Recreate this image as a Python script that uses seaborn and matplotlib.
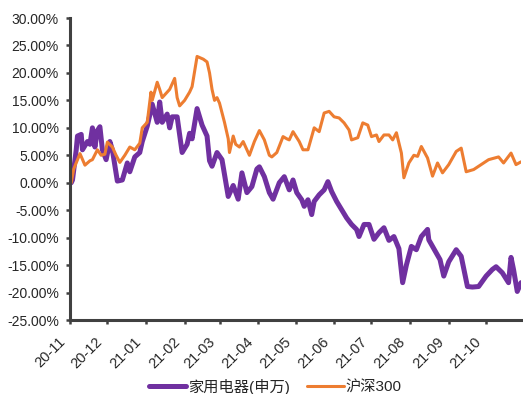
import matplotlib
matplotlib.use("Agg")
import matplotlib.pyplot as plt
import matplotlib.dates as mdates
import matplotlib.ticker as mticker
import matplotlib.transforms as mtransforms
import seaborn as sns
import pandas as pd

# 家用电器(申万) cumulative return (%)
jd_dates = ["2020-11-02", "2020-11-03", "2020-11-06", "2020-11-07", "2020-11-10", "2020-11-11",
            "2020-11-15", "2020-11-17", "2020-11-19", "2020-11-21", "2020-11-23", "2020-11-25",
            "2020-11-27", "2020-11-30", "2020-12-03", "2020-12-05", "2020-12-09", "2020-12-13",
            "2020-12-17", "2020-12-19", "2020-12-23", "2020-12-27", "2020-12-29", "2021-01-02",
            "2021-01-06", "2021-01-10", "2021-01-12", "2021-01-14", "2021-01-18", "2021-01-20",
            "2021-01-22", "2021-01-26", "2021-01-30", "2021-02-03", "2021-02-05", "2021-02-07",
            "2021-02-11", "2021-02-15", "2021-02-19", "2021-02-21", "2021-02-23", "2021-02-27",
            "2021-03-03", "2021-03-08", "2021-03-12", "2021-03-16", "2021-03-19", "2021-03-23",
            "2021-03-27", "2021-03-31", "2021-04-02", "2021-04-06", "2021-04-10", "2021-04-13",
            "2021-04-18", "2021-04-22", "2021-04-26", "2021-04-29", "2021-05-02", "2021-05-06",
            "2021-05-08", "2021-05-11", "2021-05-14", "2021-05-16", "2021-05-20", "2021-05-24",
            "2021-05-27", "2021-05-30", "2021-06-03", "2021-06-07", "2021-06-11", "2021-06-15",
            "2021-06-19", "2021-06-21", "2021-06-25", "2021-06-29", "2021-07-03", "2021-07-07",
            "2021-07-11", "2021-07-15", "2021-07-19", "2021-07-23", "2021-07-26", "2021-07-29",
            "2021-08-02", "2021-08-06", "2021-08-10", "2021-08-15", "2021-08-16", "2021-08-22",
            "2021-08-25", "2021-08-28", "2021-09-01", "2021-09-07", "2021-09-11", "2021-09-16",
            "2021-09-20", "2021-09-25", "2021-10-01", "2021-10-06", "2021-10-09", "2021-10-14",
            "2021-10-19", "2021-10-21", "2021-10-23", "2021-10-26", "2021-10-29"]
jd_values = [0.0, 0.5, 6.0, 8.5, 8.8, 6.0,
             7.5, 7.0, 10.0, 6.5, 9.5, 10.2,
             6.0, 4.2, 7.5, 6.0, 0.3, 0.5,
             3.6, 2.0, 4.7, 5.5, 7.5, 10.3,
             14.3, 11.0, 14.7, 11.0, 12.5, 10.0,
             12.0, 12.0, 5.5, 7.0, 9.0, 8.0,
             13.5, 10.5, 8.5, 4.0, 3.0, 5.5,
             4.2, -2.5, -0.5, -3.0, 1.8, -1.8,
             -0.7, 2.5, 2.9, 1.1, -1.8, -3.0,
             0.0, 1.1, -1.3, 0.5, -1.8, -3.1,
             -4.3, -3.1, -5.8, -3.4, -2.2, -1.3,
             0.2, -1.6, -3.4, -4.9, -6.4, -7.6,
             -8.5, -9.8, -7.6, -7.6, -10.3, -9.1,
             -8.2, -10.5, -9.8, -12.0, -18.2, -15.0,
             -11.6, -12.2, -9.8, -8.5, -10.4, -12.8,
             -14.0, -17.0, -14.4, -12.2, -13.4, -18.9,
             -19.0, -18.9, -17.0, -15.8, -15.3, -16.4,
             -18.2, -13.6, -15.8, -19.8, -18.2]

# 沪深300 cumulative return (%)
hs_dates = ["2020-11-02", "2020-11-04", "2020-11-09", "2020-11-13", "2020-11-17", "2020-11-19",
            "2020-11-23", "2020-11-26", "2020-11-29", "2020-12-01", "2020-12-05", "2020-12-08",
            "2020-12-11", "2020-12-15", "2020-12-19", "2020-12-23", "2020-12-27", "2020-12-29",
            "2021-01-02", "2021-01-05", "2021-01-06", "2021-01-10", "2021-01-12", "2021-01-14",
            "2021-01-18", "2021-01-20", "2021-01-24", "2021-01-26", "2021-01-28", "2021-02-01",
            "2021-02-05", "2021-02-07", "2021-02-11", "2021-02-16", "2021-02-19", "2021-02-21",
            "2021-02-23", "2021-02-25", "2021-02-27", "2021-03-01", "2021-03-05", "2021-03-08",
            "2021-03-09", "2021-03-12", "2021-03-14", "2021-03-17", "2021-03-20", "2021-03-23",
            "2021-03-25", "2021-03-29", "2021-04-02", "2021-04-06", "2021-04-10", "2021-04-12",
            "2021-04-16", "2021-04-21", "2021-04-24", "2021-04-26", "2021-04-29", "2021-05-04",
            "2021-05-07", "2021-05-11", "2021-05-14", "2021-05-16", "2021-05-20", "2021-05-24",
            "2021-05-28", "2021-06-01", "2021-06-05", "2021-06-09", "2021-06-13", "2021-06-15",
            "2021-06-20", "2021-06-24", "2021-06-28", "2021-07-01", "2021-07-05", "2021-07-07",
            "2021-07-11", "2021-07-15", "2021-07-18", "2021-07-21", "2021-07-25", "2021-07-27",
            "2021-07-31", "2021-08-04", "2021-08-07", "2021-08-10", "2021-08-15", "2021-08-19",
            "2021-08-23", "2021-08-27", "2021-09-01", "2021-09-07", "2021-09-11", "2021-09-15",
            "2021-09-21", "2021-09-27", "2021-10-03", "2021-10-11", "2021-10-15", "2021-10-21",
            "2021-10-25", "2021-10-29"]
hs_values = [0.0, 2.5, 5.3, 3.2, 4.0, 4.2,
             6.0, 5.0, 5.2, 7.4, 6.5, 5.0,
             3.7, 5.0, 6.5, 6.0, 7.2, 10.0,
             11.0, 16.5, 15.0, 18.3, 17.0, 15.5,
             16.5, 17.0, 19.0, 15.5, 14.0, 15.0,
             16.5, 17.5, 23.0, 22.5, 22.0, 20.0,
             17.0, 15.0, 15.5, 14.5, 11.0, 8.0,
             5.5, 8.5, 7.0, 6.5, 7.5, 6.0,
             5.0, 7.5, 9.5, 7.8, 5.0, 4.7,
             5.5, 8.4, 8.0, 7.8, 9.3, 7.5,
             6.0, 6.0, 8.4, 10.0, 9.3, 12.7,
             13.0, 12.0, 11.8, 10.9, 9.6, 7.8,
             8.2, 10.9, 10.5, 8.4, 8.7, 7.5,
             8.7, 8.7, 7.8, 9.1, 5.4, 0.9,
             3.6, 5.0, 4.8, 6.6, 4.5, 1.2,
             3.6, 1.8, 3.3, 5.7, 6.3, 2.0,
             2.4, 3.3, 4.2, 4.7, 3.6, 5.4,
             3.3, 3.8]

series_names = ["家用电器(申万)", "沪深300"]
tick_months = ["2020-11-01", "2020-12-01", "2021-01-01", "2021-02-01", "2021-03-01", "2021-04-01",
               "2021-05-01", "2021-06-01", "2021-07-01", "2021-08-01", "2021-09-01", "2021-10-01"]
y_ticks = [-25, -20, -15, -10, -5, 0, 5, 10, 15, 20, 25, 30]

assert len(jd_dates) == len(jd_values)
assert len(hs_dates) == len(hs_values)

sns.set_style("white")
plt.rcParams["font.family"] = ["Liberation Sans", "Noto Sans CJK SC", "DejaVu Sans"]

df_jd = pd.DataFrame({"date": pd.to_datetime(jd_dates), "value": jd_values})
df_hs = pd.DataFrame({"date": pd.to_datetime(hs_dates), "value": hs_values})

fig = plt.figure(figsize=(5.23, 3.94), dpi=100)
ax = fig.add_axes([70 / 523, 1 - 320 / 394, 451 / 523, (320 - 18) / 394])

sns.lineplot(data=df_jd, x="date", y="value", ax=ax, color="#7030A0", linewidth=3.6,
             label=series_names[0])
sns.lineplot(data=df_hs, x="date", y="value", ax=ax, color="#ED7D31", linewidth=2.2,
             label=series_names[1])

ax.set_xlim(pd.Timestamp("2020-11-01"), pd.Timestamp("2021-10-29"))
ax.set_ylim(-25, 30)
ax.set_yticks(y_ticks)
ax.yaxis.set_major_formatter(mticker.FuncFormatter(lambda v, p: f"{v:.2f}%"))
ax.set_xticks(pd.to_datetime(tick_months))
ax.xaxis.set_major_formatter(mdates.DateFormatter("%y-%m"))
ax.set_xlabel("")
ax.set_ylabel("")

for s in ["top", "right"]:
    ax.spines[s].set_visible(False)
for s in ["left", "bottom"]:
    ax.spines[s].set_color("#404040")
    ax.spines[s].set_linewidth(2.2)

ax.tick_params(axis="both", direction="out", length=3.0, width=1.8, color="#404040",
               labelcolor="#262626", left=True, bottom=True)
ax.tick_params(axis="y", pad=5, labelsize=10)
ax.tick_params(axis="x", pad=11, labelsize=10.5)
shift = mtransforms.ScaledTranslation(-7 / 100, 0, fig.dpi_scale_trans)
for lbl in ax.get_xticklabels():
    lbl.set_rotation(45)
    lbl.set_ha("right")
    lbl.set_va("center")
    lbl.set_rotation_mode("anchor")
    lbl.set_transform(lbl.get_transform() + shift)

handles, labels = ax.get_legend_handles_labels()
ax.get_legend().remove()
fig.legend(handles, labels, loc="center", bbox_to_anchor=(0.527, 0.019), ncol=2,
           frameon=False, fontsize=11, handlelength=2.4, handletextpad=0.15,
           columnspacing=1.1, labelcolor="#262626")

fig.savefig("out.png", dpi=100)
